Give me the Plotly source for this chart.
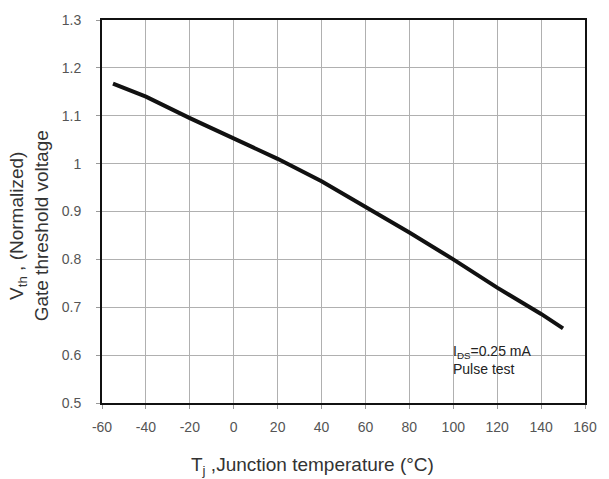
import plotly.graph_objects as go

# Data
temperature = [-55, -40, -20, 0, 20, 40, 60, 80, 100, 120, 140, 150]
vth_norm = [1.167, 1.140, 1.095, 1.052, 1.010, 0.963, 0.910, 0.856, 0.800, 0.741, 0.686, 0.656]
x_ticks = [-60, -40, -20, 0, 20, 40, 60, 80, 100, 120, 140, 160]
y_ticks = [0.5, 0.6, 0.7, 0.8, 0.9, 1.0, 1.1, 1.2, 1.3]
y_tick_text = ["0.5", "0.6", "0.7", "0.8", "0.9", "1", "1.1", "1.2", "1.3"]

W, H = 609, 479
L, R, T, B = 102, 18, 19, 76
pw, ph = W - L - R, H - T - B

def px_x(p):
    return (p - L) / pw

def px_y(p):
    return (H - B - p) / ph

fig = go.Figure()
fig.add_trace(go.Scatter(
    x=temperature, y=vth_norm, mode="lines",
    line=dict(color="#111111", width=4), showlegend=False,
))

font = "Liberation Sans, Arial, sans-serif"

fig.update_layout(
    width=W, height=H,
    margin=dict(l=L, r=R, t=T, b=B),
    paper_bgcolor="white", plot_bgcolor="white",
    font=dict(family=font, color="#333333"),
    xaxis=dict(
        range=[-60, 160], tickvals=x_ticks, ticktext=[str(v) for v in x_ticks],
        showgrid=True, gridcolor="#b0b0b0", gridwidth=1,
        showline=True, linecolor="#111111", linewidth=2, mirror=True,
        ticks="outside", ticklen=4, tickcolor="#999999",
        ticklabelstandoff=6,
        tickfont=dict(size=14, color="#555555", family=font),
        zeroline=False, fixedrange=True,
    ),
    yaxis=dict(
        range=[0.5, 1.3], tickvals=y_ticks, ticktext=y_tick_text,
        showgrid=True, gridcolor="#b0b0b0", gridwidth=1,
        showline=True, linecolor="#111111", linewidth=2, mirror=True,
        ticks="outside", ticklen=4, tickcolor="#999999",
        ticklabelstandoff=12,
        tickfont=dict(size=14, color="#555555", family=font),
        zeroline=False, fixedrange=True,
    ),
    annotations=[
        dict(
            text="V<sub>th</sub> , (Normalized)<br>Gate threshold voltage",
            xref="paper", yref="paper", x=px_x(29), y=px_y(225),
            xanchor="center", yanchor="middle", textangle=-90,
            showarrow=False, font=dict(size=19, color="#333333", family=font),
        ),
        dict(
            text="T<sub>j</sub> ,Junction temperature (°C)",
            xref="paper", yref="paper", x=px_x(315), y=px_y(466),
            xanchor="center", yanchor="middle",
            showarrow=False, font=dict(size=19, color="#333333", family=font),
        ),
        dict(
            text="I<sub>DS</sub>=0.25 mA<br>Pulse test",
            xref="paper", yref="paper", x=px_x(455), y=px_y(360),
            xanchor="left", yanchor="middle", align="left",
            showarrow=False, font=dict(size=14, color="#222222", family=font),
        ),
    ],
)

fig.write_html("out.html")
